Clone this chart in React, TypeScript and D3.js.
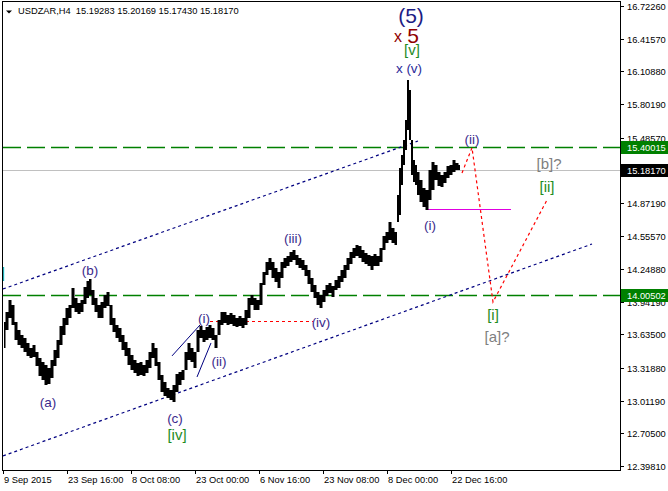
import React from "react";
import * as d3 from "d3";

// ---------- data ----------
const symbolText = "USDZAR,H4";
const ohlcValues = ["15.19283", "15.20169", "15.17430", "15.18170"];

const priceTicks = [16.7226, 16.4157, 16.1088, 15.8019, 15.4857, 15.1788, 14.8719, 14.5557, 14.2488, 13.9419, 13.635, 13.3188, 13.0119, 12.705, 12.3981];
const dateTickBars = [0, 64, 128, 192, 256, 320, 384, 448];
const dateTickLabels = ["9 Sep 2015", "23 Sep 16:00", "8 Oct 08:00", "23 Oct 00:00", "6 Nov 16:00", "23 Nov 08:00", "8 Dec 00:00", "22 Dec 16:00"];

const barIdx = [
  1, 4, 7, 10, 13, 16, 19, 22, 25, 28,
  31, 34, 37, 40, 43, 46, 49, 52, 55, 58,
  61, 64, 67, 70, 73, 76, 79, 82, 85, 87,
  90, 93, 96, 99, 102, 105, 108, 111, 114, 117,
  120, 123, 126, 129, 132, 135, 138, 141, 144, 147,
  150, 153, 156, 159, 162, 165, 168, 171, 174, 177,
  180, 183, 186, 189, 192, 195, 198, 201, 204, 207,
  210, 213, 216, 219, 222, 225, 228, 231, 234, 237,
  240, 243, 246, 249, 252, 255, 258, 261, 264, 267,
  270, 273, 276, 279, 282, 285, 288, 291, 294, 297,
  300, 303, 306, 309, 312, 315, 318, 321, 324, 327,
  330, 333, 336, 339, 342, 345, 348, 351, 354, 357,
  360, 363, 366, 369, 372, 375, 378, 381, 384, 387,
  390, 393, 395, 397, 399, 401, 403, 405, 407, 409,
  411, 413, 415, 418, 421, 424, 427, 430, 433, 436,
  439, 442, 445, 448, 451, 454, 457,
];
const highs = [
  13.752, 13.846, 13.959, 13.912, 13.752, 13.677, 13.63, 13.602, 13.555, 13.508,
  13.536, 13.47, 13.414, 13.376, 13.348, 13.32, 13.395, 13.489, 13.583, 13.715,
  13.79, 13.884, 13.912, 14.072, 13.978, 13.931, 13.959, 14.081, 14.138, 14.156,
  14.053, 13.978, 13.912, 13.94, 14.006, 14.034, 13.912, 13.79, 13.724, 13.696,
  13.63, 13.564, 13.508, 13.442, 13.395, 13.367, 13.376, 13.348, 13.395, 13.47,
  13.555, 13.508, 13.376, 13.254, 13.188, 13.132, 13.113, 13.16, 13.263, 13.282,
  13.301, 13.47, 13.555, 13.508, 13.47, 13.677, 13.715, 13.677, 13.705, 13.724,
  13.696, 13.63, 13.771, 13.846, 13.846, 13.818, 13.837, 13.818, 13.79, 13.809,
  13.79, 13.865, 13.978, 14.006, 13.978, 13.959, 14.119, 14.222, 14.316, 14.354,
  14.316, 14.26, 14.222, 14.316, 14.354, 14.373, 14.41, 14.429, 14.382, 14.354,
  14.335, 14.288, 14.241, 14.166, 14.1, 14.034, 14.006, 14.053, 14.1, 14.119,
  14.091, 14.147, 14.185, 14.241, 14.288, 14.354, 14.41, 14.448, 14.476, 14.467,
  14.429, 14.401, 14.382, 14.373, 14.391, 14.373, 14.448, 14.561, 14.598, 14.692,
  14.636, 14.598, 14.946, 15.2, 15.322, 15.463, 15.651, 16.027, 15.933, 15.463,
  15.275, 15.228, 15.162, 15.087, 15.012, 14.993, 15.181, 15.256, 15.228, 15.162,
  15.134, 15.162, 15.219, 15.228, 15.275, 15.247, 15.228,
];
const lows = [
  13.508, 13.677, 13.79, 13.724, 13.583, 13.536, 13.508, 13.47, 13.433, 13.414,
  13.423, 13.339, 13.245, 13.207, 13.16, 13.169, 13.226, 13.339, 13.414, 13.536,
  13.63, 13.724, 13.79, 13.884, 13.846, 13.827, 13.846, 13.921, 13.978, 14.006,
  13.912, 13.846, 13.79, 13.79, 13.884, 13.903, 13.724, 13.658, 13.602, 13.564,
  13.489, 13.433, 13.348, 13.301, 13.273, 13.245, 13.254, 13.245, 13.273, 13.32,
  13.414, 13.339, 13.207, 13.094, 13.057, 13.038, 13.019, 13.0, 13.094, 13.16,
  13.207, 13.301, 13.395, 13.376, 13.32, 13.47, 13.602, 13.564, 13.583, 13.602,
  13.583, 13.508, 13.63, 13.724, 13.743, 13.724, 13.733, 13.715, 13.705, 13.715,
  13.696, 13.724, 13.79, 13.912, 13.865, 13.865, 13.912, 14.1, 14.194, 14.241,
  14.166, 14.128, 14.072, 14.166, 14.26, 14.279, 14.316, 14.335, 14.288, 14.26,
  14.241, 14.185, 14.109, 14.034, 13.978, 13.912, 13.884, 13.94, 13.997, 14.025,
  13.987, 14.053, 14.072, 14.128, 14.166, 14.241, 14.297, 14.354, 14.373, 14.354,
  14.316, 14.297, 14.279, 14.241, 14.279, 14.279, 14.316, 14.429, 14.495, 14.523,
  14.495, 14.476, 14.692, 14.758, 15.04, 15.228, 15.369, 15.557, 15.463, 15.134,
  15.068, 15.04, 14.946, 14.88, 14.833, 14.805, 14.899, 14.993, 15.087, 15.031,
  15.021, 15.059, 15.106, 15.134, 15.162, 15.181, 15.181,
];

const lastPrice = 15.1817;
const levelPrices = [15.40015, 14.00502];

const channelUpperBars = [0, 415];
const channelUpperPrices = [14.062, 15.454];
const channelLowerBars = [0, 589];
const channelLowerPrices = [12.493, 14.485];

const trend1Bars = [169, 197];
const trend1Prices = [13.433, 13.724];
const trend2Bars = [194, 208];
const trend2Prices = [13.235, 13.555];

const redLevelBars = [207, 310];
const redLevelPrice = 13.761;
const magentaLevelBars = [425, 508];
const magentaLevelPrice = 14.814;

const projectionBars = [459, 469, 490, 544];
const projectionPrices = [15.153, 15.39, 13.94, 14.899];

type Lab = { text: string; bar: number; price: number; color: string; size: number; anchor?: string };
const NAVY = "#1c1c84";
const WAVE = "#3b2a8c";
const GREEN = "#1e8c1e";
const GRAY = "#808080";
const DARKRED = "#900000";
const waveLabels: Lab[] = [
  { text: "(5)", bar: 408, price: 16.563, color: NAVY, size: 21 },
  { text: "x", bar: 395, price: 16.384, color: DARKRED, size: 16 },
  { text: "5", bar: 410, price: 16.375, color: DARKRED, size: 21 },
  { text: "[v]", bar: 409, price: 16.262, color: GREEN, size: 15 },
  { text: "x (v)", bar: 406, price: 16.093, color: "#2b2b9a", size: 13.5 },
  { text: "(b)", bar: 87, price: 14.194, color: WAVE, size: 13.5 },
  { text: "(a)", bar: 45, price: 12.953, color: WAVE, size: 13.5 },
  { text: "(c)", bar: 172, price: 12.803, color: WAVE, size: 13.5 },
  { text: "[iv]", bar: 174, price: 12.643, color: GREEN, size: 15 },
  { text: "(i)", bar: 201, price: 13.743, color: WAVE, size: 13.5 },
  { text: "(ii)", bar: 216, price: 13.339, color: WAVE, size: 13.5 },
  { text: "(iii)", bar: 290, price: 14.495, color: WAVE, size: 13.5 },
  { text: "(iv)", bar: 318, price: 13.705, color: WAVE, size: 13.5 },
  { text: "(i)", bar: 427, price: 14.617, color: WAVE, size: 13.5 },
  { text: "(ii)", bar: 469, price: 15.426, color: WAVE, size: 13.5 },
  { text: "[b]?", bar: 546, price: 15.191, color: GRAY, size: 15 },
  { text: "[ii]", bar: 544, price: 14.975, color: GREEN, size: 15 },
  { text: "[i]", bar: 490, price: 13.771, color: GREEN, size: 15 },
  { text: "[a]?", bar: 494, price: 13.565, color: GRAY, size: 15 },
  { text: "[iii]", bar: 2, price: 14.166, color: "#10a080", size: 15, anchor: "end" },
];

// ---------- layout ----------
const W = 668;
const H = 491;
const L = 3, R = 620, T = 2, B = 470;
const FONT = "'Liberation Sans', Arial, sans-serif";
const AX = 9.3;

export default function App() {
  const x = d3.scaleLinear().domain([0, 617]).range([L, R]);
  const y = d3.scaleLinear().domain([12.3981, 16.7226]).range([466, 6]);
  const fmt = d3.format(".5f");

  const rows = barIdx.map((b, i) => ({ b, h: highs[i], l: lows[i] }));
  const band = d3
    .area<{ b: number; h: number; l: number }>()
    .curve(d3.curveStep)
    .x((d) => x(d.b))
    .y0((d) => y(d.l))
    .y1((d) => y(d.h))(rows) as string;

  const seg = (bars: number[], prices: number[]) =>
    d3.line<number>().x((_, i) => x(bars[i])).y((p) => y(p))(prices) as string;

  return (
    <svg
      width={W}
      height={H}
      style={{ position: "fixed", left: 0, top: 0, background: "#fff" }}
      fontFamily={FONT}
    >
      <defs>
        <clipPath id="plotClip">
          <rect x={L} y={T} width={R - L} height={B - T} />
        </clipPath>
      </defs>
      <rect x={0} y={0} width={W} height={H} fill="#fff" />

      <g clipPath="url(#plotClip)">
        <line x1={L} x2={R} y1={Math.round(y(lastPrice)) + 0.5} y2={Math.round(y(lastPrice)) + 0.5} stroke="#c0c0c0" strokeWidth={1} />
        {levelPrices.map((p, i) => (
          <line key={i} x1={L} x2={R} y1={Math.round(y(p)) + 0.5} y2={Math.round(y(p)) + 0.5} stroke="#008000" strokeWidth={1.5} strokeDasharray="18,6" />
        ))}
        <path d={seg(channelUpperBars, channelUpperPrices)} stroke="#000080" strokeWidth={1.2} strokeDasharray="3,3" fill="none" />
        <path d={seg(channelLowerBars, channelLowerPrices)} stroke="#000080" strokeWidth={1.2} strokeDasharray="3,3" fill="none" />
        <path d={seg(trend1Bars, trend1Prices)} stroke="#000080" strokeWidth={1} fill="none" />
        <path d={seg(trend2Bars, trend2Prices)} stroke="#000080" strokeWidth={1} fill="none" />
        <line x1={x(redLevelBars[0])} x2={x(redLevelBars[1])} y1={Math.round(y(redLevelPrice)) + 0.5} y2={Math.round(y(redLevelPrice)) + 0.5} stroke="#ff0000" strokeWidth={1} strokeDasharray="3,3" />
        <line x1={x(magentaLevelBars[0])} x2={x(magentaLevelBars[1])} y1={Math.round(y(magentaLevelPrice)) + 0.5} y2={Math.round(y(magentaLevelPrice)) + 0.5} stroke="#e000e0" strokeWidth={1} />
        <path d={band} fill="#000" stroke="none" />
        <path d={seg(projectionBars, projectionPrices)} stroke="#ff0000" strokeWidth={1.2} strokeDasharray="3,3" fill="none" />
        {waveLabels.map((lb, i) => (
          <text key={i} x={x(lb.bar)} y={y(lb.price)} fill={lb.color} fontSize={lb.size} textAnchor={lb.anchor || "middle"}>
            {lb.text}
          </text>
        ))}
      </g>

      <rect x={2.5} y={1.5} width={R - 2} height={B - 1} fill="none" stroke="#000" strokeWidth={1} />

      {priceTicks.map((p, i) => {
        const yy = Math.round(y(p)) + 0.5;
        return (
          <g key={i}>
            <line x1={R} x2={R + 4} y1={yy} y2={yy} stroke="#000" />
            <text x={627} y={yy} dy="0.35em" fontSize={AX} fill="#000">
              {fmt(p)}
            </text>
          </g>
        );
      })}
      {[
        { p: levelPrices[0], bg: "#008000" },
        { p: lastPrice, bg: "#000" },
        { p: levelPrices[1], bg: "#008000" },
      ].map((b, i) => {
        const yy = Math.round(y(b.p)) + 0.5;
        return (
          <g key={"b" + i}>
            <rect x={621} y={yy - 6.5} width={47} height={13} fill={b.bg} />
            <text x={627} y={yy} dy="0.35em" fontSize={AX} fill="#fff">
              {fmt(b.p)}
            </text>
          </g>
        );
      })}

      {dateTickBars.map((b, i) => (
        <g key={i}>
          <line x1={Math.round(x(b)) + 0.5} x2={Math.round(x(b)) + 0.5} y1={B} y2={B + 4} stroke="#000" />
          <text x={x(b) + 1} y={483} fontSize={AX} fill="#000">
            {dateTickLabels[i]}
          </text>
        </g>
      ))}

      <polygon points="6,10.5 12,10.5 9,13.5" fill="#000" />
      <text x={18} y={14} fontSize={AX} fill="#000" xmlSpace="preserve">
        {symbolText + "  " + ohlcValues.join(" ")}
      </text>
    </svg>
  );
}
